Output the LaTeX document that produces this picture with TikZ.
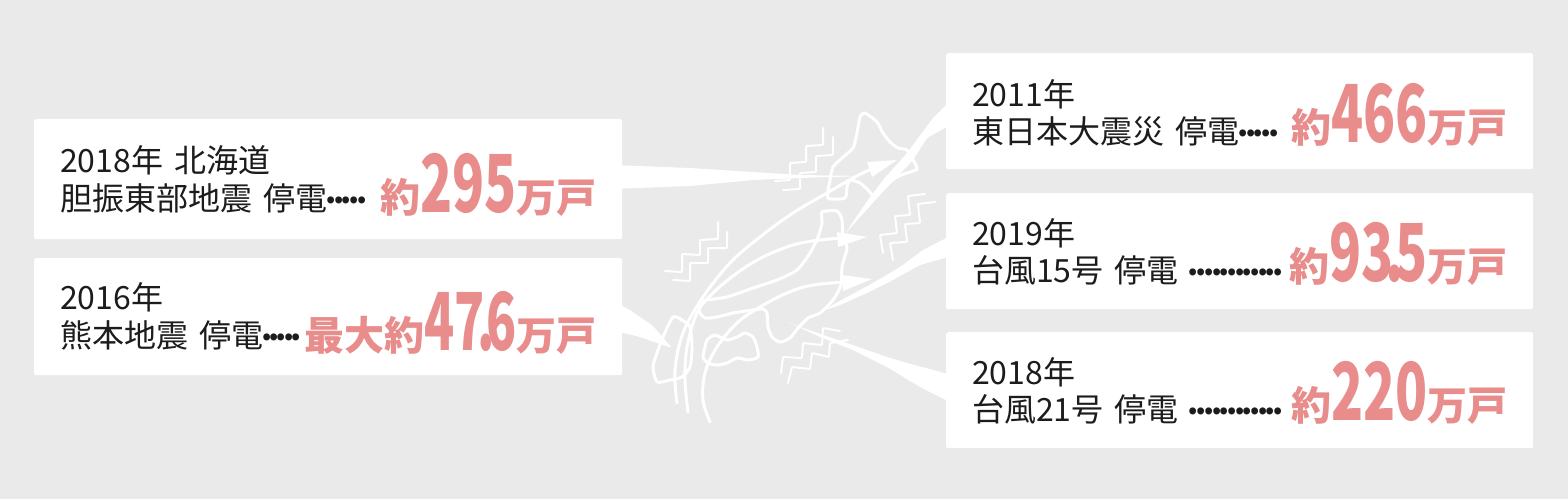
\documentclass[tikz,border=0pt]{standalone}
\usepackage{fontspec}
\usepackage{graphicx}
\newfontfamily\jp{Noto Sans CJK JP}
\definecolor{bg}{RGB}{234,234,234}
\definecolor{ink}{RGB}{28,28,28}
\definecolor{pk}{RGB}{232,141,140}
\newcommand\dd{\makebox[7.7pt]{\raisebox{7pt}{\bfseries .}}}
\newcommand\ddn{\makebox[7.3pt]{\raisebox{7pt}{\bfseries .}}}
\newcommand\sep{\hspace{11pt}}
\newcommand\pd{\makebox[3pt]{.}}
\newcommand\bnum[2][0.66]{\scalebox{#1}[1]{\fontsize{80pt}{80pt}\selectfont\bfseries #2}}
\newcommand\bj[1]{{\fontsize{40pt}{40pt}\selectfont\bfseries #1}}
\tikzset{
  box/.style={fill=white, inner sep=0, anchor=north west, rounded corners=2pt},
  small/.style={anchor=base west, inner sep=0, text=ink, font=\jp\fontsize{32pt}{32pt}\selectfont},
  big/.style={anchor=base east, inner sep=0, text=pk, font=\jp},
  mapline/.style={draw=white, line width=3pt, line join=round, line cap=round},
  arcline/.style={draw=white, line width=3pt, line cap=round},
  zig/.style={draw=white, line width=2pt, line join=round, line cap=round, rounded corners=0.8pt},
  brush/.style={fill=white, rounded corners=2pt},
  head/.style={fill=white}
}
\begin{document}
\begin{tikzpicture}[x=1pt,y=-1pt]
\useasboundingbox (0,0) rectangle (1568,499);
\fill[bg] (0,0) rectangle (1568,499);

% boxes
\node[box, minimum width=588pt, minimum height=120pt] (bl1) at (34,119) {};
\node[box, minimum width=588pt, minimum height=117pt] (bl2) at (34,258) {};
\node[box, minimum width=587pt, minimum height=116pt] (br1) at (946,53) {};
\node[box, minimum width=587pt, minimum height=116pt] (br2) at (946,193) {};
\node[box, minimum width=587pt, minimum height=116pt] (br3) at (946,332) {};

% connectors (brush strokes)
\fill[brush] (612,165) -- (690,168) -- (753,172) -- (800,175) -- (864,176) -- (800,178) -- (753,180) -- (690,186) -- (612,189) -- cycle;
\fill[brush] (612,300) -- (633,312) -- (653,326) -- (672,348) -- (657,343) -- (640,337) -- (612,330) -- cycle;
\fill[brush] (952,99) -- (933,118) -- (907,153) -- (883,180) -- (863,207) -- (845,234) -- (860,217) -- (880,195) -- (897,177) -- (913,160) -- (927,138) -- (952,124) -- cycle;
\fill[brush] (952,235) -- (923,250) -- (900,267) -- (873,283) -- (847,297) -- (820,312) -- (840,305) -- (867,293) -- (893,280) -- (920,265) -- (952,256) -- cycle;
\fill[brush] (952,375) -- (907,363) -- (887,357) -- (847,343) -- (800,327) -- (786,321) -- (820,337) -- (853,350) -- (887,367) -- (920,387) -- (952,403) -- cycle;

% map: Hokkaido
\draw[mapline] plot[smooth cycle, tension=0.4] coordinates {(860,117) (865,113) (877,122) (883,133) (890,142) (898,148) (907,150) (913,160) (917,169) (907,173) (897,177) (883,187) (875,197) (868,190) (860,183) (850,180) (847,187) (845,198) (828,198) (830,180) (833,167) (842,158) (853,148) (857,133)};
% Honshu
\draw[mapline] plot[smooth cycle, tension=0.4] coordinates {(822,212) (837,211) (842,220) (843,237) (847,248) (842,267) (841,285) (833,300) (820,313) (808,318) (798,328) (790,338) (780,342) (772,337) (768,327) (767,313) (763,309) (753,310) (733,313) (717,317) (705,318) (700,313) (699,303) (707,300) (727,297) (753,288) (777,280) (797,270) (810,253) (818,237) (822,223)};
% Shikoku
\draw[mapline] plot[smooth cycle, tension=0.4] coordinates {(707,340) (715,335) (727,340) (737,337) (745,333) (753,337) (757,347) (758,357) (748,360) (737,358) (727,363) (717,365) (708,363) (703,357) (705,347)};
% Kyushu
\draw[mapline] plot[smooth cycle, tension=0.4] coordinates {(673,317) (682,320) (690,327) (692,347) (690,367) (682,377) (670,380) (657,382) (653,367) (657,353) (663,337)};

% arcs with arrowheads
\draw[arcline] plot[smooth, tension=0.6] coordinates {(677,403) (675,370) (683,333) (703,297) (730,263) (760,237) (793,213) (827,193) (853,178) (873,168)};
\fill[head] (897,160) -- (867,162) -- (872,177) -- cycle;
\draw[arcline] plot[smooth, tension=0.6] coordinates {(688,412) (685,380) (687,347) (697,313) (713,293) (737,273) (763,257) (793,245) (820,240) (845,238)};
\fill[head] (867,237) -- (837,232) -- (838,247) -- cycle;
\draw[arcline] plot[smooth, tension=0.6] coordinates {(710,422) (703,400) (705,373) (717,347) (737,323) (760,307) (787,293) (813,285) (848,282)};
\fill[head] (872,279) -- (842,275) -- (843,291) -- cycle;

% tremor zigzags
\draw[zig] (823,128) -- (823,145) -- (806,146) -- (806,162) -- (790,163) -- (790,180) -- (775,181);
\draw[zig] (833,137) -- (833,155) -- (816,156) -- (816,172) -- (800,173) -- (800,189) -- (783,190);
\draw[zig] (718,222) -- (718,239) -- (700,240) -- (700,255) -- (682,254) -- (682,272) -- (665,271);
\draw[zig] (727,232) -- (727,248) -- (708,248) -- (708,263) -- (690,263) -- (690,281) -- (673,280);
\draw[zig] (925,194) -- (908,196) -- (910,215) -- (895,216) -- (897,233) -- (880,235) -- (883,253);
\draw[zig] (935,202) -- (918,204) -- (920,223) -- (905,224) -- (907,242) -- (890,243) -- (893,260);
\draw[zig] (840,331) -- (823,328) -- (822,345) -- (803,343) -- (802,358) -- (783,357) -- (781,373);
\draw[zig] (848,340) -- (830,343) -- (829,357) -- (812,353) -- (810,369) -- (792,367) -- (788,383);

% texts: left
\node[small] (l1a) at (60,172) {2018年\sep 北海道};
\node[small] (l1b) at (60,210) {胆振東部地震\sep 停電\dd\dd\dd\dd\dd};
\node[big] (l1c) at (597,212) {\bj{約}\bnum{295}\bj{万戸}};
\node[small] (l2a) at (60,309) {2016年};
\node[small] (l2b) at (60,347) {熊本地震\sep 停電\ddn\ddn\ddn\ddn\ddn};
\node[big] (l2c) at (597,350) {\bj{最大約}\bnum[0.62]{47\pd 6}\bj{万戸}};
% right
\node[small] (r1a) at (972,106) {2011年};
\node[small] (r1b) at (972,143) {東日本大震災\sep 停電\dd\dd\dd\dd\dd};
\node[big] (r1c) at (1508,142) {\bj{約}\bnum{466}\bj{万戸}};
\node[small] (r2a) at (972,245) {2019年};
\node[small] (r2b) at (972,282) {台風15号\sep 停電\sep\dd\dd\dd\dd\dd\dd\dd\dd\dd\dd\dd\dd};
\node[big] (r2c) at (1508,281) {\bj{約}\bnum{93\pd 5}\bj{万戸}};
\node[small] (r3a) at (972,384) {2018年};
\node[small] (r3b) at (972,421) {台風21号\sep 停電\sep\dd\dd\dd\dd\dd\dd\dd\dd\dd\dd\dd\dd};
\node[big] (r3c) at (1508,420) {\bj{約}\bnum{220}\bj{万戸}};
\end{tikzpicture}
\end{document}
